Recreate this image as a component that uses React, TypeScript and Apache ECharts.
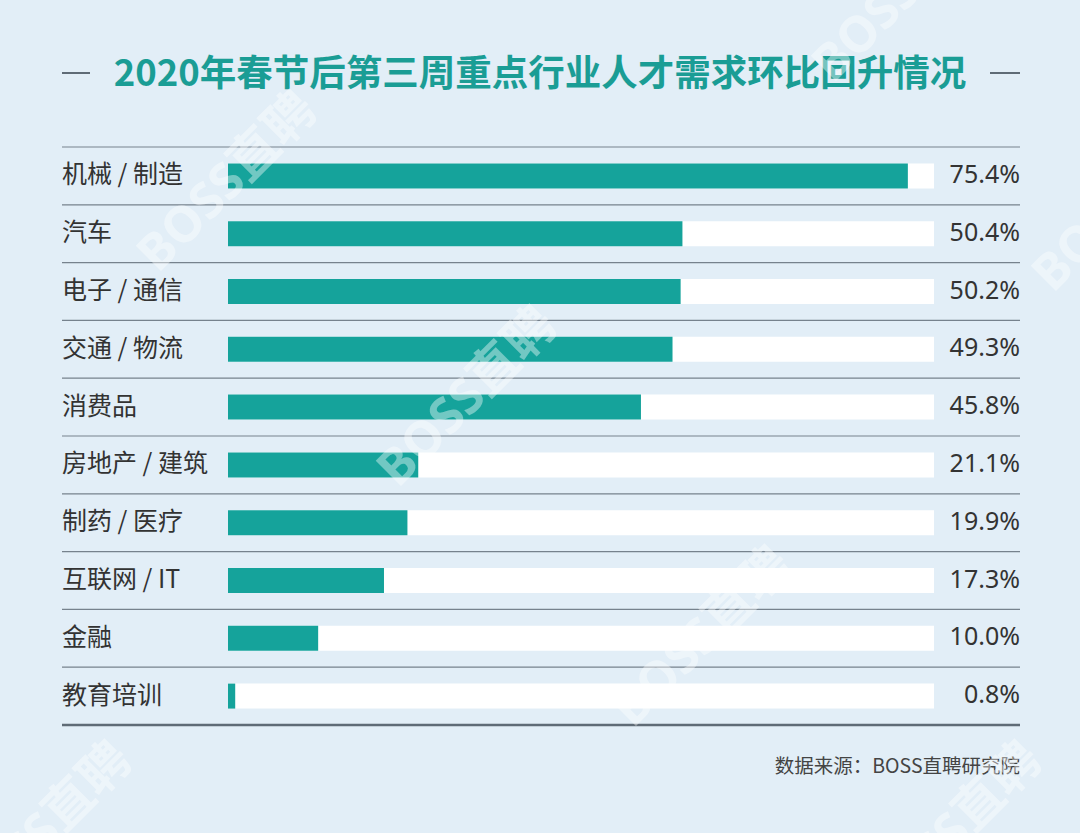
import React, { useEffect, useRef } from "react";
import * as echarts from "echarts";

const categories = [
  "机械 / 制造",
  "汽车",
  "电子 / 通信",
  "交通 / 物流",
  "消费品",
  "房地产 / 建筑",
  "制药 / 医疗",
  "互联网 / IT",
  "金融",
  "教育培训",
];
const values = [75.4, 50.4, 50.2, 49.3, 45.8, 21.1, 19.9, 17.3, 10.0, 0.8];
const valueLabels = values.map((v) => v.toFixed(1) + "%");
const titleText = "2020年春节后第三周重点行业人才需求环比回升情况";
const sourceText = "数据来源：BOSS直聘研究院";

const W = 1080;
const H = 833;
const GRID_LEFT = 228;
const GRID_RIGHT_X = 934;
const GRID_TOP = 147;
const GRID_BOTTOM_Y = 725;
const LINE_LEFT = 62;
const LINE_RIGHT = 1020;

export default function App() {
  const ref = useRef<HTMLDivElement>(null);
  useEffect(() => {
    document.body.style.margin = "0";
    const chart = echarts.init(ref.current!, null, { renderer: "svg" });
    const rowH = (GRID_BOTTOM_Y - GRID_TOP) / categories.length;
    const sepLines: any[] = [];
    for (let i = 0; i <= categories.length; i++) {
      const y = GRID_TOP + i * rowH;
      const last = i === categories.length;
      sepLines.push({
        type: "line",
        shape: { x1: LINE_LEFT, y1: y, x2: LINE_RIGHT, y2: y },
        style: { stroke: last ? "#5f6b76" : "#76828d", lineWidth: last ? 2.5 : 1.2 },
        z: 1,
      });
    }
    const wm = (x: number, y: number, t: string) => ({
      type: "text",
      x,
      y,
      rotation: Math.PI / 4,
      z: 100,
      style: {
        text: t,
        fill: "rgba(255,255,255,0.4)",
        font: "bold 50px 'Noto Sans', 'Noto Sans CJK SC', sans-serif",
        textAlign: "center",
        textVerticalAlign: "middle",
      },
    });
    chart.setOption({
      animation: false,
      backgroundColor: "#e2eef7",
      grid: {
        left: GRID_LEFT,
        right: W - GRID_RIGHT_X,
        top: GRID_TOP,
        bottom: H - GRID_BOTTOM_Y,
      },
      xAxis: { type: "value", min: 0, max: 78.3, show: false },
      yAxis: [
        {
          type: "category",
          data: categories,
          inverse: true,
          axisLine: { show: false },
          axisTick: { show: false },
          splitLine: { show: false },
          axisLabel: {
            align: "left",
            margin: GRID_LEFT - LINE_LEFT,
            formatter: (v: string) => `{t|${v}}`,
            rich: {
              t: {
                color: "#333333",
                fontSize: 25,
                lineHeight: 30,
                padding: [0, 0, 7, 0],
                fontFamily: "'Noto Sans CJK SC', 'Noto Sans', sans-serif",
              },
            },
          },
        },
        {
          type: "category",
          data: valueLabels,
          inverse: true,
          position: "right",
          axisLine: { show: false },
          axisTick: { show: false },
          splitLine: { show: false },
          axisLabel: {
            align: "right",
            margin: LINE_RIGHT - GRID_RIGHT_X,
            formatter: (v: string) => `{t|${v}}`,
            rich: {
              t: {
                color: "#333333",
                fontSize: 25,
                lineHeight: 30,
                padding: [0, 0, 6, 0],
                fontFamily: "'Noto Sans', 'Noto Sans CJK SC', sans-serif",
              },
            },
          },
        },
      ],
      series: [
        {
          type: "bar",
          data: values,
          barWidth: 25,
          itemStyle: { color: "#15a39b" },
          showBackground: true,
          backgroundStyle: { color: "#ffffff", opacity: 1 },
          z: 2,
        },
      ],
      graphic: [
        ...sepLines,
        {
          type: "text",
          x: W / 2,
          y: 70,
          style: {
            text: titleText,
            fill: "#1a9d95",
            font: "bold 36.5px 'Noto Sans CJK SC', sans-serif",
            textAlign: "center",
            textVerticalAlign: "middle",
          },
        },
        {
          type: "line",
          shape: { x1: 62, y1: 73, x2: 90, y2: 73 },
          style: { stroke: "#5f6b76", lineWidth: 2 },
        },
        {
          type: "line",
          shape: { x1: 990, y1: 73, x2: 1020, y2: 73 },
          style: { stroke: "#5f6b76", lineWidth: 2 },
        },
        {
          type: "text",
          x: LINE_RIGHT,
          y: 764,
          style: {
            text: sourceText,
            fill: "#444444",
            font: "19.5px 'Noto Sans CJK SC', sans-serif",
            textAlign: "right",
            textVerticalAlign: "middle",
          },
        },
        wm(225, 180, "BOSS直聘"),
        wm(465, 395, "BOSS直聘"),
        wm(700, 635, "BOSS直聘"),
        wm(900, -10, "BOSS直聘"),
        wm(1120, 200, "BOSS直聘"),
        wm(40, 830, "BOSS直聘"),
        wm(950, 830, "BOSS直聘"),
      ],
    });
    return () => chart.dispose();
  }, []);
  return (
    <div
      ref={ref}
      style={{ position: "fixed", left: 0, top: 0, width: W, height: H }}
    />
  );
}
